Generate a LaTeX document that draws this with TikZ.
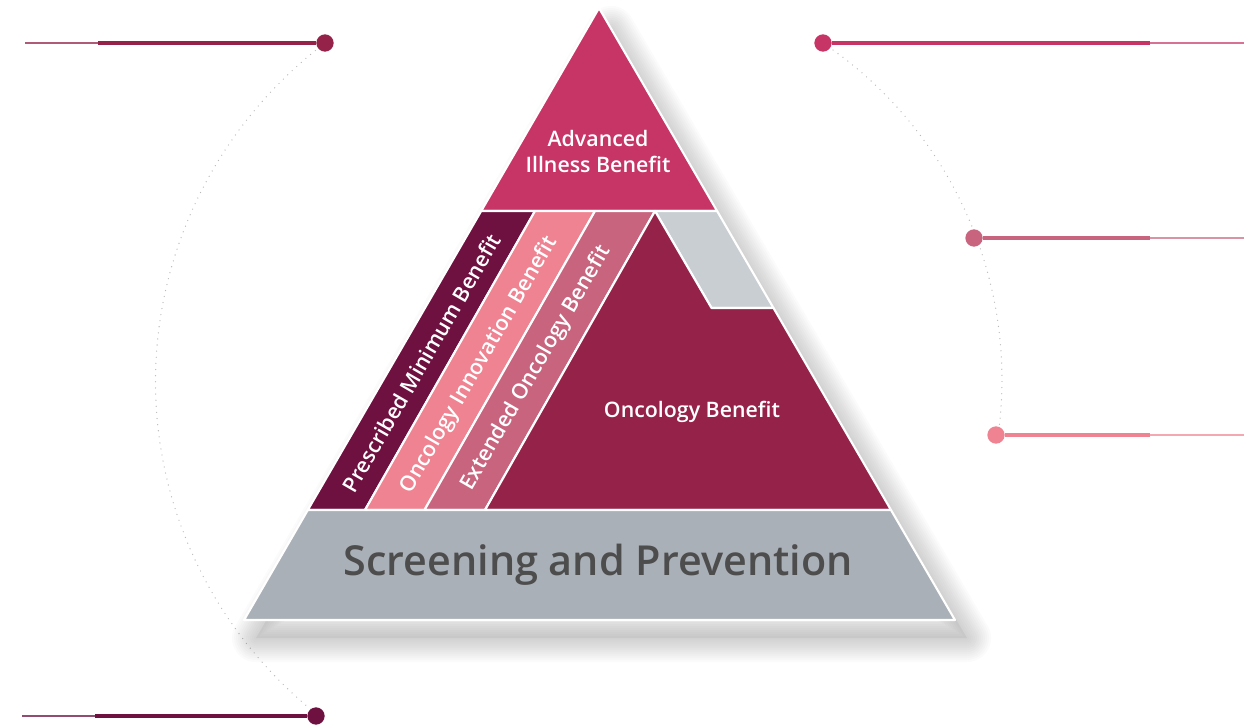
\documentclass[tikz,border=0pt]{standalone}
\usepackage{fontspec}
\setmainfont{Open Sans}
\newfontfamily\semib{Open Sans Semibold}
\usetikzlibrary{backgrounds}

\definecolor{topPink}{HTML}{C73566}
\definecolor{plum}{HTML}{6E1040}
\definecolor{lightPink}{HTML}{EF8391}
\definecolor{rosePink}{HTML}{C8647E}
\definecolor{wine}{HTML}{952349}
\definecolor{paleGray}{HTML}{C9CED3}
\definecolor{baseGray}{HTML}{AAB0B7}
\definecolor{textGray}{HTML}{4D4D4D}

\begin{document}
\begin{tikzpicture}[x=0.75pt,y=-0.75pt,
  band/.style={draw=white,line width=1.6pt,line join=round},
  lbl/.style={text=white,font=\semib\fontsize{16}{19.5}\selectfont,align=center},
  slant/.style={text=white,font=\semib\fontsize{16}{17}\selectfont,rotate=60},
  dot/.style={circle,inner sep=0pt,minimum size=13pt},
  pathdots/.style={gray!55,line width=1pt,dash pattern=on 0pt off 4.6pt,line cap=round}]
\useasboundingbox (0,0) rectangle (1244,725);

% Shadow
\foreach \w in {4,8,...,48}
  \draw[black,opacity=0.014,line width=\w*0.75pt,line join=round]
    (256,638) -- (611,30) -- (967,638) -- cycle;
\fill[black,opacity=0.05] (256,638) -- (611,30) -- (967,638) -- cycle;

% Top band
\fill[topPink,band] (599,8) -- (481.2,211) -- (717.1,211) -- cycle;

% Middle band: stripes
\fill[plum,band] (481.2,211) -- (535,211) -- (365,510) -- (307.8,510) -- cycle;
\fill[lightPink,band] (535,211) -- (595,211) -- (424.5,510) -- (365,510) -- cycle;
\fill[rosePink,band] (595,211) -- (655,211) -- (485,510) -- (424.5,510) -- cycle;
\fill[paleGray,band] (655,211) -- (717.1,211) -- (773.5,308) -- (711.5,308) -- cycle;
\fill[wine,band] (655,211) -- (711.5,308) -- (773.5,308) -- (891,510) -- (485,510) -- cycle;

% Bottom band
\fill[baseGray,band] (307.8,510) -- (891,510) -- (955,620) -- (244,620) -- cycle;

% Labels
\node[lbl] (adv) at (598,151) {Advanced\\Illness Benefit};
\node[lbl] (onc) at (692,412) {Oncology Benefit};
\node[slant] (pmb) at (421,363) {Prescribed Minimum Benefit};
\node[slant] (oib) at (479,365) {Oncology Innovation Benefit};
\node[slant] (eob) at (536,368) {Extended Oncology Benefit};
\node[text=textGray,font=\semib\fontsize{31}{36}\selectfont] (scr) at (598,565) {Screening and Prevention};

% Left markers
\node[dot,fill=wine] (dL1) at (325,43) {};
\coordinate (mL1) at (98,43);
\coordinate (eL1) at (25,43);
\draw[wine,line width=2.4pt] (dL1) -- (mL1);
\draw[wine!75,line width=1.4pt] (mL1) -- (eL1);

\node[dot,fill=plum] (dL2) at (316,716) {};
\coordinate (mL2) at (95,716);
\coordinate (eL2) at (22,716);
\draw[plum,line width=2.4pt] (dL2) -- (mL2);
\draw[plum!75,line width=1.4pt] (mL2) -- (eL2);

% Right markers
\node[dot,fill=topPink] (dR1) at (823,43) {};
\coordinate (mR1) at (1150,43);
\coordinate (eR1) at (1244,43);
\draw[topPink,line width=2.4pt] (dR1) -- (mR1);
\draw[topPink!70,line width=1.4pt] (mR1) -- (eR1);

\node[dot,fill=rosePink] (dR2) at (974,238) {};
\coordinate (mR2) at (1150,238);
\coordinate (eR2) at (1244,238);
\draw[rosePink,line width=2.4pt] (dR2) -- (mR2);
\draw[rosePink!70,line width=1.4pt] (mR2) -- (eR2);

\node[dot,fill=lightPink] (dR3) at (996,435) {};
\coordinate (mR3) at (1150,435);
\coordinate (eR3) at (1244,435);
\draw[lightPink,line width=2.4pt] (dR3) -- (mR3);
\draw[lightPink!70,line width=1.4pt] (mR3) -- (eR3);

% Dotted arcs
\begin{scope}[on background layer]
\draw[pathdots] (dL1.center) arc[start angle=232, end angle=129, x radius=441, y radius=430];
\draw[pathdots] (dR1.center) arc[start angle=-56, end angle=7.8, radius=406];
\end{scope}

\end{tikzpicture}
\end{document}
